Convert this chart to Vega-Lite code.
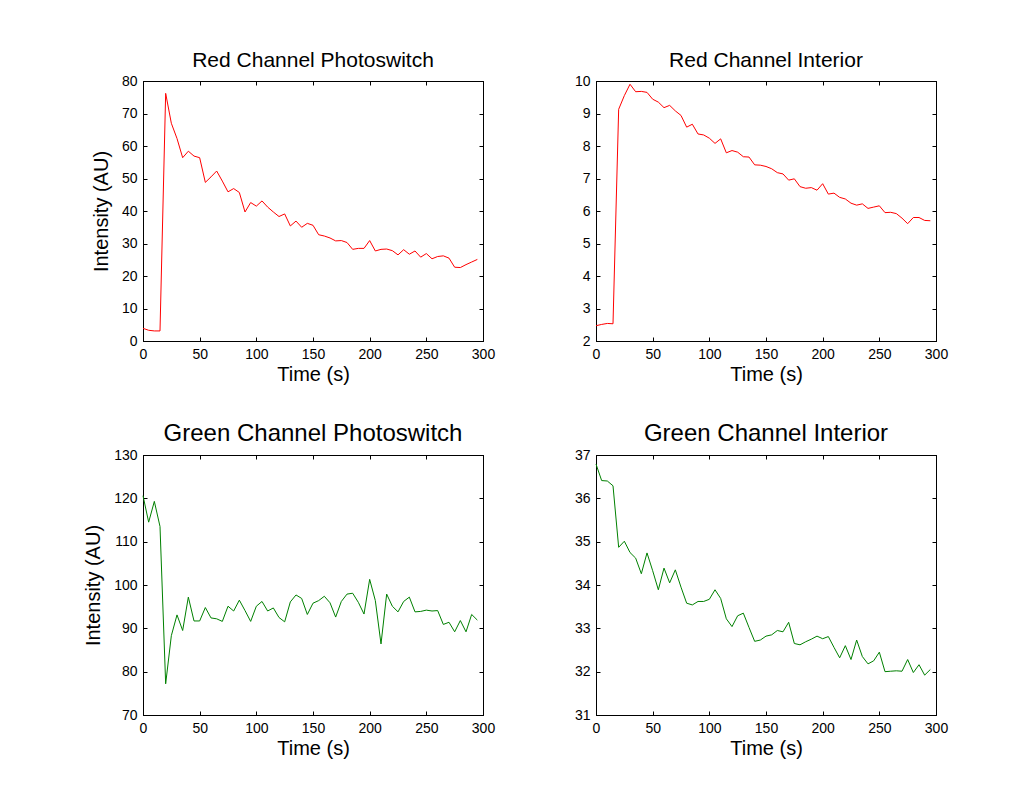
{
  "$schema": "https://vega.github.io/schema/vega-lite/v6.json",
  "background": "white",
  "padding": {"left": 83, "top": 49, "right": 5, "bottom": 5},
  "datasets": {
    "rp": [
      {"t":0,"v":3.9},{"t":5,"v":3.3},{"t":10,"v":3.1},{"t":15,"v":3.1},{"t":20,"v":76.2},{"t":25,"v":67.0},{"t":30,"v":62.3},{"t":35,"v":56.4},{"t":40,"v":58.4},{"t":45,"v":56.9},
      {"t":50,"v":56.4},{"t":55,"v":48.8},{"t":60,"v":50.5},{"t":65,"v":52.3},{"t":70,"v":49.2},{"t":75,"v":45.9},{"t":80,"v":46.9},{"t":85,"v":45.7},{"t":90,"v":39.7},{"t":95,"v":42.6},
      {"t":100,"v":41.5},{"t":105,"v":43.1},{"t":110,"v":41.2},{"t":115,"v":39.7},{"t":120,"v":38.3},{"t":125,"v":39.1},{"t":130,"v":35.4},{"t":135,"v":36.9},{"t":140,"v":35.0},{"t":145,"v":36.2},
      {"t":150,"v":35.6},{"t":155,"v":32.7},{"t":160,"v":32.3},{"t":165,"v":31.7},{"t":170,"v":30.8},{"t":175,"v":30.9},{"t":180,"v":30.3},{"t":185,"v":28.2},{"t":190,"v":28.5},{"t":195,"v":28.5},
      {"t":200,"v":30.9},{"t":205,"v":27.7},{"t":210,"v":28.2},{"t":215,"v":28.3},{"t":220,"v":27.8},{"t":225,"v":26.5},{"t":230,"v":28.1},{"t":235,"v":26.7},{"t":240,"v":27.7},{"t":245,"v":25.8},
      {"t":250,"v":26.9},{"t":255,"v":25.3},{"t":260,"v":26.0},{"t":265,"v":26.2},{"t":270,"v":25.5},{"t":275,"v":22.7},{"t":280,"v":22.6},{"t":285,"v":23.5},{"t":290,"v":24.3},{"t":295,"v":25.1}
    ],
    "ri": [
      {"t":0,"v":2.47},{"t":5,"v":2.51},{"t":10,"v":2.54},{"t":15,"v":2.53},{"t":20,"v":9.13},{"t":25,"v":9.55},{"t":30,"v":9.90},{"t":35,"v":9.67},{"t":40,"v":9.68},{"t":45,"v":9.65},
      {"t":50,"v":9.44},{"t":55,"v":9.35},{"t":60,"v":9.18},{"t":65,"v":9.25},{"t":70,"v":9.08},{"t":75,"v":8.94},{"t":80,"v":8.58},{"t":85,"v":8.67},{"t":90,"v":8.37},{"t":95,"v":8.34},
      {"t":100,"v":8.24},{"t":105,"v":8.08},{"t":110,"v":8.22},{"t":115,"v":7.79},{"t":120,"v":7.86},{"t":125,"v":7.81},{"t":130,"v":7.67},{"t":135,"v":7.66},{"t":140,"v":7.42},{"t":145,"v":7.41},
      {"t":150,"v":7.37},{"t":155,"v":7.30},{"t":160,"v":7.18},{"t":165,"v":7.14},{"t":170,"v":6.95},{"t":175,"v":6.99},{"t":180,"v":6.75},{"t":185,"v":6.70},{"t":190,"v":6.72},{"t":195,"v":6.64},
      {"t":200,"v":6.84},{"t":205,"v":6.52},{"t":210,"v":6.55},{"t":215,"v":6.42},{"t":220,"v":6.37},{"t":225,"v":6.24},{"t":230,"v":6.18},{"t":235,"v":6.22},{"t":240,"v":6.08},{"t":245,"v":6.12},
      {"t":250,"v":6.16},{"t":255,"v":5.95},{"t":260,"v":5.96},{"t":265,"v":5.92},{"t":270,"v":5.78},{"t":275,"v":5.61},{"t":280,"v":5.80},{"t":285,"v":5.80},{"t":290,"v":5.71},{"t":295,"v":5.70}
    ],
    "gp": [
      {"t":0,"v":120.6},{"t":5,"v":114.5},{"t":10,"v":119.3},{"t":15,"v":113.5},{"t":20,"v":77.2},{"t":25,"v":88.3},{"t":30,"v":93.1},{"t":35,"v":89.5},{"t":40,"v":97.2},{"t":45,"v":91.7},
      {"t":50,"v":91.7},{"t":55,"v":94.8},{"t":60,"v":92.4},{"t":65,"v":92.2},{"t":70,"v":91.6},{"t":75,"v":95.1},{"t":80,"v":94.0},{"t":85,"v":96.5},{"t":90,"v":94.1},{"t":95,"v":91.6},
      {"t":100,"v":95.1},{"t":105,"v":96.2},{"t":110,"v":94.0},{"t":115,"v":94.7},{"t":120,"v":92.5},{"t":125,"v":91.5},{"t":130,"v":96.1},{"t":135,"v":97.7},{"t":140,"v":96.9},{"t":145,"v":93.2},
      {"t":150,"v":95.8},{"t":155,"v":96.4},{"t":160,"v":97.4},{"t":165,"v":95.9},{"t":170,"v":92.6},{"t":175,"v":96.2},{"t":180,"v":97.9},{"t":185,"v":98.1},{"t":190,"v":96.0},{"t":195,"v":93.3},
      {"t":200,"v":101.3},{"t":205,"v":96.4},{"t":210,"v":86.4},{"t":215,"v":97.9},{"t":220,"v":95.1},{"t":225,"v":93.8},{"t":230,"v":96.2},{"t":235,"v":97.2},{"t":240,"v":93.8},{"t":245,"v":93.9},
      {"t":250,"v":94.2},{"t":255,"v":94.0},{"t":260,"v":94.1},{"t":265,"v":90.9},{"t":270,"v":91.4},{"t":275,"v":89.2},{"t":280,"v":91.8},{"t":285,"v":89.2},{"t":290,"v":93.2},{"t":295,"v":91.9}
    ],
    "gi": [
      {"t":0,"v":36.79},{"t":5,"v":36.41},{"t":10,"v":36.40},{"t":15,"v":36.29},{"t":20,"v":34.87},{"t":25,"v":35.01},{"t":30,"v":34.75},{"t":35,"v":34.62},{"t":40,"v":34.26},{"t":45,"v":34.74},
      {"t":50,"v":34.33},{"t":55,"v":33.89},{"t":60,"v":34.39},{"t":65,"v":34.05},{"t":70,"v":34.35},{"t":75,"v":33.95},{"t":80,"v":33.58},{"t":85,"v":33.54},{"t":90,"v":33.62},{"t":95,"v":33.62},
      {"t":100,"v":33.67},{"t":105,"v":33.89},{"t":110,"v":33.69},{"t":115,"v":33.22},{"t":120,"v":33.04},{"t":125,"v":33.29},{"t":130,"v":33.35},{"t":135,"v":33.02},{"t":140,"v":32.70},{"t":145,"v":32.73},
      {"t":150,"v":32.82},{"t":155,"v":32.85},{"t":160,"v":32.95},{"t":165,"v":32.92},{"t":170,"v":33.14},{"t":175,"v":32.65},{"t":180,"v":32.62},{"t":185,"v":32.69},{"t":190,"v":32.75},{"t":195,"v":32.82},
      {"t":200,"v":32.76},{"t":205,"v":32.81},{"t":210,"v":32.56},{"t":215,"v":32.32},{"t":220,"v":32.60},{"t":225,"v":32.28},{"t":230,"v":32.73},{"t":235,"v":32.35},{"t":240,"v":32.18},{"t":245,"v":32.25},
      {"t":250,"v":32.45},{"t":255,"v":32.00},{"t":260,"v":32.01},{"t":265,"v":32.02},{"t":270,"v":32.01},{"t":275,"v":32.28},{"t":280,"v":31.98},{"t":285,"v":32.16},{"t":290,"v":31.92},{"t":295,"v":32.05}
    ]
  },
  "columns": 2,
  "spacing": {"row": 114, "column": 113},
  "bounds": "flush",
  "concat": [
    {
      "title": {"text": "Red Channel Photoswitch", "fontSize": 21, "baseline": "alphabetic", "offset": -14, "frame": "group"},
      "width": 340, "height": 260,
      "data": {"name": "rp"},
      "layer": [
        {"mark": {"type": "line", "color": "#ff0000", "strokeWidth": 1},
         "encoding": {
           "x": {"field": "t", "type": "quantitative", "scale": {"domain": [0, 300], "nice": false}, "axis": {"values": [0,50,100,150,200,250,300], "title": "Time (s)"}},
           "y": {"field": "v", "type": "quantitative", "scale": {"domain": [0, 80], "nice": false, "zero": false}, "axis": {"values": [0,10,20,30,40,50,60,70,80], "title": "Intensity (AU)"}}}},
        {"mark": {"type": "line", "strokeOpacity": 0},
         "encoding": {
           "x": {"field": "t", "type": "quantitative", "scale": {"domain": [0, 300], "nice": false}, "axis": {"orient": "top", "values": [0,50,100,150,200,250,300], "labels": false, "title": null, "minExtent": 0, "maxExtent": 0, "labelPadding": 0}},
           "y": {"field": "v", "type": "quantitative", "scale": {"domain": [0, 80], "nice": false, "zero": false}, "axis": {"orient": "right", "values": [0,10,20,30,40,50,60,70,80], "labels": false, "title": null, "minExtent": 0, "maxExtent": 0, "labelPadding": 0}}}}
      ],
      "resolve": {"axis": {"x": "independent", "y": "independent"}}
    },
    {
      "title": {"text": "Red Channel Interior", "fontSize": 21, "baseline": "alphabetic", "offset": -14, "frame": "group"},
      "width": 340, "height": 260,
      "data": {"name": "ri"},
      "layer": [
        {"mark": {"type": "line", "color": "#ff0000", "strokeWidth": 1},
         "encoding": {
           "x": {"field": "t", "type": "quantitative", "scale": {"domain": [0, 300], "nice": false}, "axis": {"values": [0,50,100,150,200,250,300], "title": "Time (s)"}},
           "y": {"field": "v", "type": "quantitative", "scale": {"domain": [2, 10], "nice": false, "zero": false}, "axis": {"values": [2,3,4,5,6,7,8,9,10], "title": null}}}},
        {"mark": {"type": "line", "strokeOpacity": 0},
         "encoding": {
           "x": {"field": "t", "type": "quantitative", "scale": {"domain": [0, 300], "nice": false}, "axis": {"orient": "top", "values": [0,50,100,150,200,250,300], "labels": false, "title": null, "minExtent": 0, "maxExtent": 0, "labelPadding": 0}},
           "y": {"field": "v", "type": "quantitative", "scale": {"domain": [2, 10], "nice": false, "zero": false}, "axis": {"orient": "right", "values": [2,3,4,5,6,7,8,9,10], "labels": false, "title": null, "minExtent": 0, "maxExtent": 0, "labelPadding": 0}}}}
      ],
      "resolve": {"axis": {"x": "independent", "y": "independent"}}
    },
    {
      "title": {"text": "Green Channel Photoswitch", "fontSize": 24, "baseline": "alphabetic", "offset": -17, "frame": "group"},
      "width": 340, "height": 260,
      "data": {"name": "gp"},
      "layer": [
        {"mark": {"type": "line", "color": "#008000", "strokeWidth": 1},
         "encoding": {
           "x": {"field": "t", "type": "quantitative", "scale": {"domain": [0, 300], "nice": false}, "axis": {"values": [0,50,100,150,200,250,300], "title": "Time (s)"}},
           "y": {"field": "v", "type": "quantitative", "scale": {"domain": [70, 130], "nice": false, "zero": false}, "axis": {"values": [70,80,90,100,110,120,130], "title": "Intensity (AU)"}}}},
        {"mark": {"type": "line", "strokeOpacity": 0},
         "encoding": {
           "x": {"field": "t", "type": "quantitative", "scale": {"domain": [0, 300], "nice": false}, "axis": {"orient": "top", "values": [0,50,100,150,200,250,300], "labels": false, "title": null, "minExtent": 0, "maxExtent": 0, "labelPadding": 0}},
           "y": {"field": "v", "type": "quantitative", "scale": {"domain": [70, 130], "nice": false, "zero": false}, "axis": {"orient": "right", "values": [70,80,90,100,110,120,130], "labels": false, "title": null, "minExtent": 0, "maxExtent": 0, "labelPadding": 0}}}}
      ],
      "resolve": {"axis": {"x": "independent", "y": "independent"}}
    },
    {
      "title": {"text": "Green Channel Interior", "fontSize": 24, "baseline": "alphabetic", "offset": -17, "frame": "group"},
      "width": 340, "height": 260,
      "data": {"name": "gi"},
      "layer": [
        {"mark": {"type": "line", "color": "#008000", "strokeWidth": 1},
         "encoding": {
           "x": {"field": "t", "type": "quantitative", "scale": {"domain": [0, 300], "nice": false}, "axis": {"values": [0,50,100,150,200,250,300], "title": "Time (s)"}},
           "y": {"field": "v", "type": "quantitative", "scale": {"domain": [31, 37], "nice": false, "zero": false}, "axis": {"values": [31,32,33,34,35,36,37], "title": null}}}},
        {"mark": {"type": "line", "strokeOpacity": 0},
         "encoding": {
           "x": {"field": "t", "type": "quantitative", "scale": {"domain": [0, 300], "nice": false}, "axis": {"orient": "top", "values": [0,50,100,150,200,250,300], "labels": false, "title": null, "minExtent": 0, "maxExtent": 0, "labelPadding": 0}},
           "y": {"field": "v", "type": "quantitative", "scale": {"domain": [31, 37], "nice": false, "zero": false}, "axis": {"orient": "right", "values": [31,32,33,34,35,36,37], "labels": false, "title": null, "minExtent": 0, "maxExtent": 0, "labelPadding": 0}}}}
      ],
      "resolve": {"axis": {"x": "independent", "y": "independent"}}
    }
  ],
  "config": {
    "view": {"stroke": "black", "strokeWidth": 1},
    "axis": {"grid": false, "domainColor": "black", "tickColor": "black", "labelColor": "black", "titleColor": "black",
             "labelFont": "Liberation Sans", "titleFont": "Liberation Sans", "labelFontSize": 14, "titleFontSize": 20,
             "titleFontWeight": "normal", "tickSize": -4, "labelPadding": 10, "labelFlush": false},
    "axisX": {"titlePadding": 3},
    "axisY": {"titlePadding": 10},
    "title": {"font": "Liberation Sans", "fontWeight": "normal", "color": "black"}
  }
}
